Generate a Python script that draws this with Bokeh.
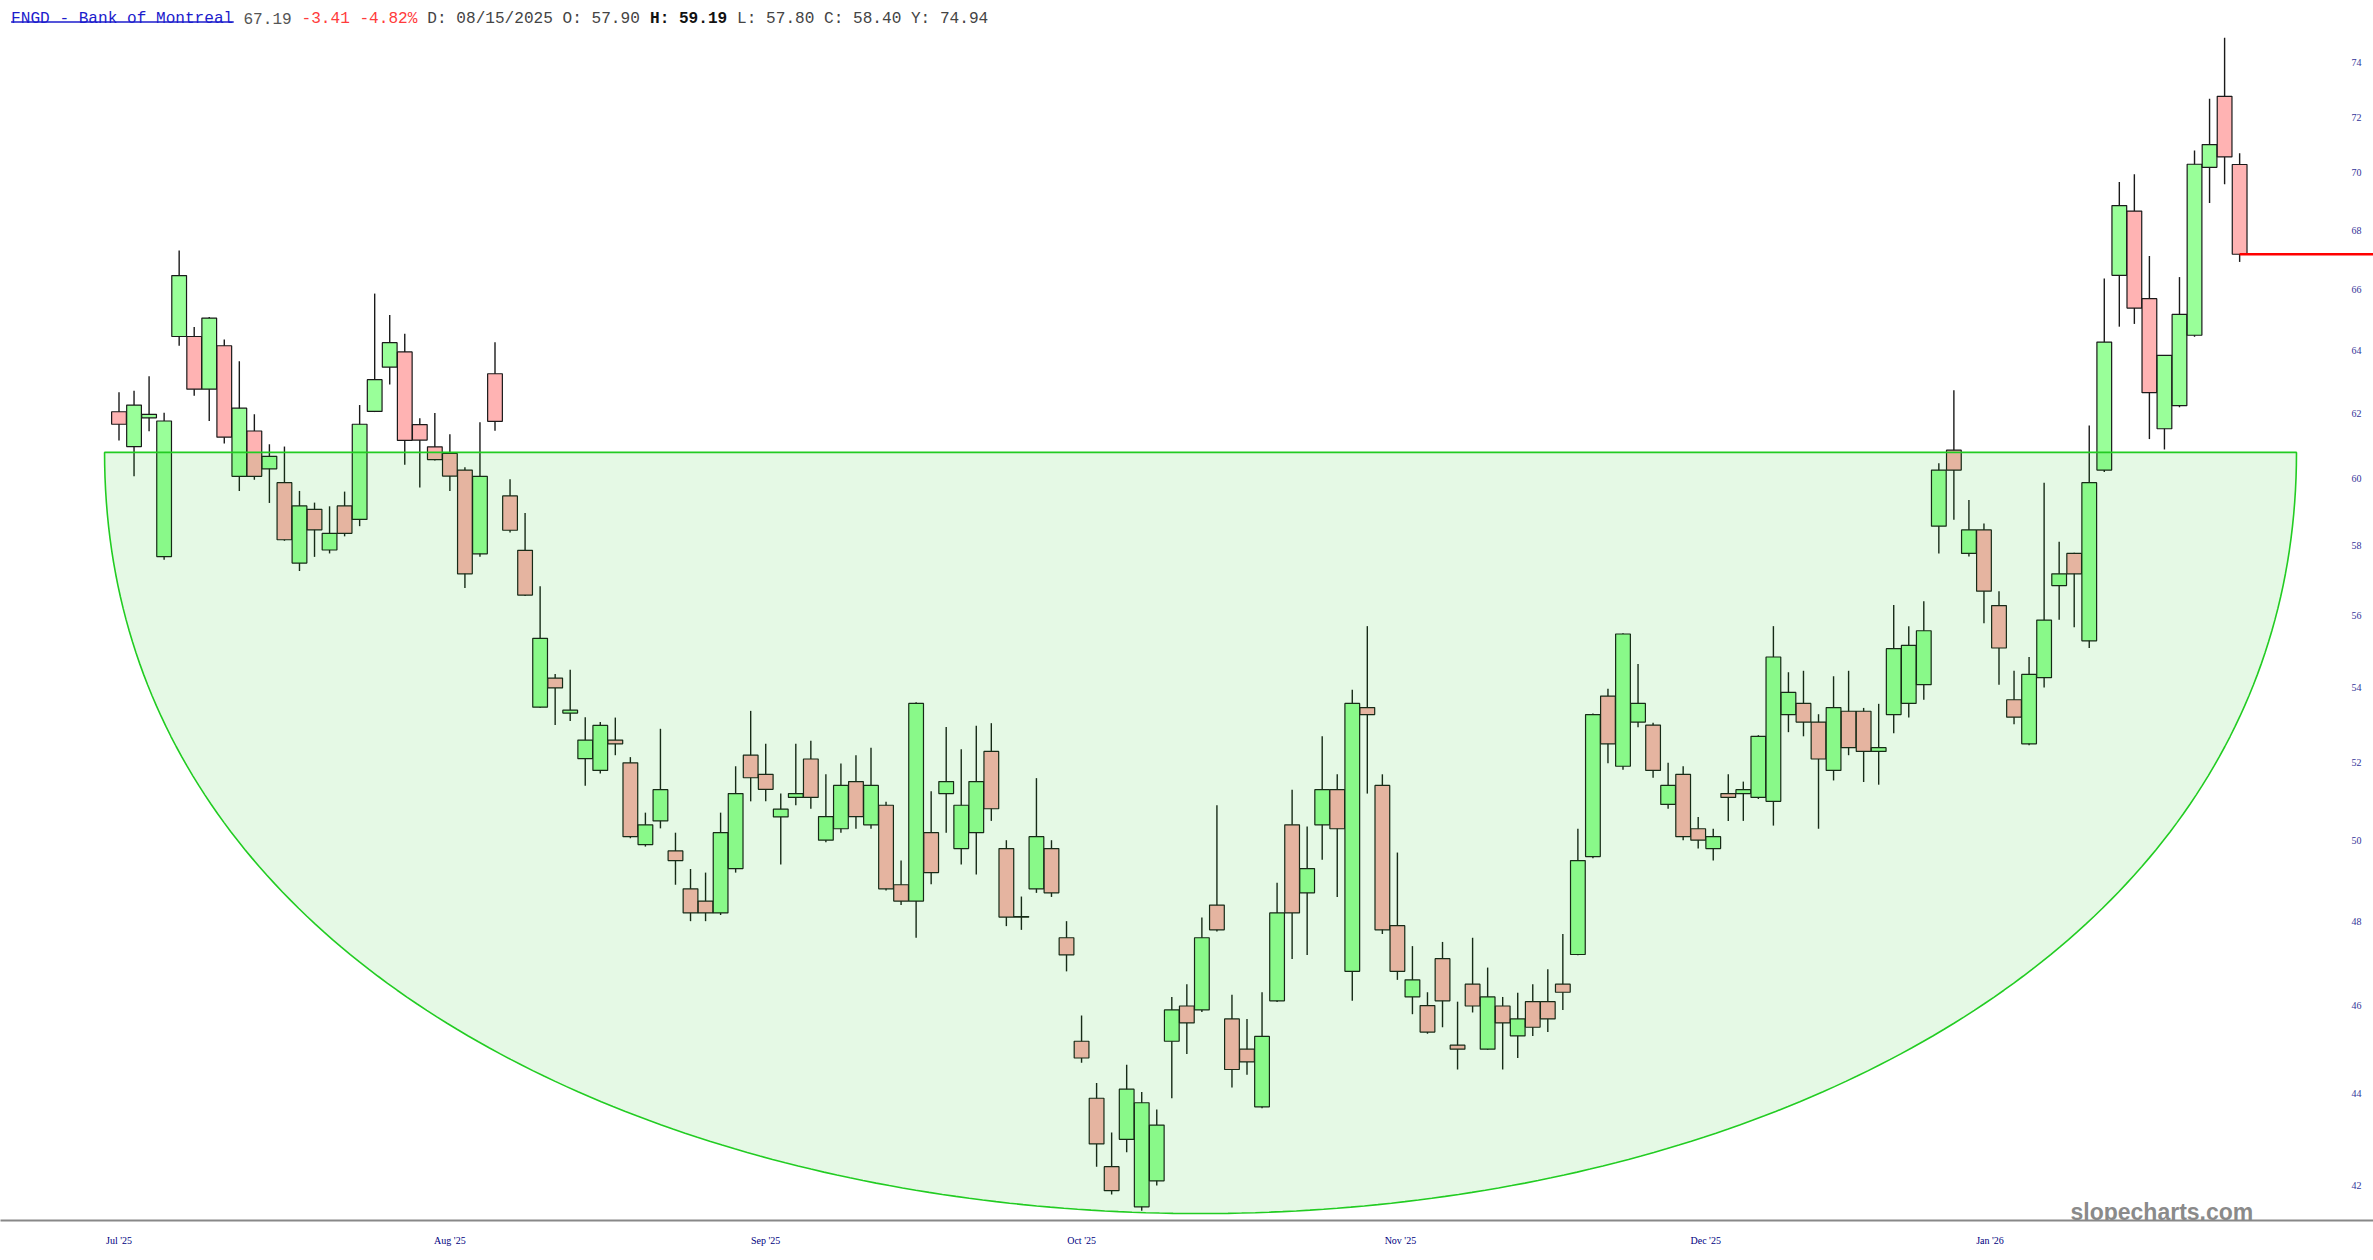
import math
from bokeh.plotting import figure
from bokeh.models import Range1d, FixedTicker, Label, CustomJSTickFormatter
from bokeh.core.properties import value
from bokeh.embed import file_html
from bokeh.resources import INLINE

# ---------------- data ----------------
opens = [62.06, 60.98, 61.87, 57.69, 64.46, 64.46, 62.77, 64.16, 60.07, 61.46,
         60.30, 59.88, 57.50, 59.08, 57.88, 59.18, 58.78, 62.07, 63.47, 63.96,
         61.66, 60.97, 60.77, 60.26, 57.77, 63.26, 59.48, 57.87, 53.47, 54.26,
         53.31, 52.10, 51.79, 52.59, 51.99, 49.89, 50.49, 49.73, 48.79, 48.49,
         48.20, 49.29, 52.19, 51.69, 50.59, 51.09, 52.09, 50.00, 50.29, 51.50,
         50.39, 50.89, 48.89, 48.49, 50.19, 51.19, 49.79, 50.19, 52.29, 49.79,
         48.10, 48.79, 49.79, 47.60, 45.18, 43.90, 42.41, 43.00, 41.56, 42.11,
         45.18, 45.99, 45.90, 48.39, 45.69, 45.00, 43.71, 46.11, 50.39, 48.69,
         50.39, 51.29, 46.80, 53.46, 51.40, 47.89, 46.20, 46.00, 47.10, 45.09,
         46.50, 45.00, 45.99, 45.30, 46.09, 46.09, 46.50, 47.20, 49.59, 53.77,
         51.90, 53.07, 52.99, 50.91, 51.69, 50.29, 49.79, 51.19, 51.19, 51.09,
         50.99, 53.27, 53.57, 53.07, 51.79, 53.36, 53.36, 52.29, 53.27, 53.57,
         54.08, 58.58, 60.87, 57.78, 58.47, 56.28, 53.67, 52.49, 54.27, 56.85,
         57.78, 55.29, 60.26, 66.48, 68.67, 65.70, 61.53, 62.25, 64.50, 70.20,
         72.76, 70.30]
highs = [62.67, 62.72, 63.18, 62.03, 67.32, 64.77, 65.10, 64.36, 63.66, 61.98,
         61.05, 60.98, 59.63, 59.28, 59.17, 59.61, 62.27, 65.87, 65.16, 64.55,
         61.86, 62.02, 61.36, 60.35, 61.73, 64.27, 59.98, 58.97, 56.83, 54.37,
         54.49, 53.20, 53.07, 53.19, 52.14, 50.70, 52.89, 50.19, 49.28, 49.19,
         50.70, 51.90, 53.37, 52.49, 51.19, 52.49, 52.57, 51.69, 51.97, 52.19,
         52.39, 50.98, 49.49, 53.60, 51.25, 52.94, 52.35, 52.97, 53.04, 50.00,
         48.60, 51.59, 50.00, 48.00, 45.77, 44.24, 43.15, 44.65, 44.04, 43.65,
         46.20, 46.50, 48.09, 50.89, 46.25, 45.69, 46.31, 48.94, 51.29, 50.35,
         52.69, 51.69, 53.94, 55.70, 51.69, 49.69, 47.40, 46.31, 47.50, 46.09,
         47.60, 46.89, 46.20, 46.30, 46.50, 46.85, 47.69, 50.29, 53.30, 53.97,
         55.50, 54.65, 53.05, 51.99, 51.90, 50.59, 50.29, 51.69, 51.50, 52.72,
         55.70, 54.42, 54.46, 53.28, 54.31, 54.46, 53.45, 53.56, 56.30, 55.70,
         56.40, 60.47, 62.74, 59.36, 58.66, 56.69, 54.46, 54.84, 59.88, 58.12,
         57.80, 61.63, 66.37, 69.68, 69.96, 67.13, 63.85, 66.42, 70.80, 72.67,
         74.94, 70.70]
lows = [61.17, 60.07, 61.45, 57.60, 64.16, 62.56, 61.77, 61.07, 59.63, 59.97,
        59.27, 58.15, 57.27, 57.68, 57.78, 58.28, 58.58, 62.05, 62.92, 60.42,
        59.73, 60.55, 59.63, 56.78, 57.68, 61.47, 58.39, 56.55, 53.45, 52.99,
        53.10, 51.39, 51.71, 52.19, 50.05, 49.84, 50.30, 48.89, 48.00, 48.00,
        48.15, 49.19, 50.99, 50.99, 49.39, 50.89, 50.80, 49.95, 50.19, 50.29,
        50.29, 48.75, 48.39, 47.60, 48.90, 50.19, 49.39, 49.14, 50.49, 47.88,
        47.79, 48.69, 48.59, 46.80, 44.69, 42.41, 41.82, 42.72, 41.48, 42.01,
        43.90, 44.89, 45.85, 47.75, 44.14, 44.42, 43.68, 46.08, 47.09, 47.19,
        49.51, 48.59, 46.11, 51.19, 47.69, 46.60, 45.80, 45.35, 45.50, 44.54,
        45.84, 44.98, 44.54, 44.80, 45.30, 45.39, 45.90, 47.18, 49.55, 51.98,
        51.81, 52.93, 51.60, 50.80, 50.00, 49.79, 49.49, 50.49, 50.49, 51.05,
        50.37, 52.80, 52.69, 50.29, 51.53, 52.19, 51.49, 51.42, 52.77, 53.19,
        53.67, 57.78, 58.77, 57.69, 55.78, 54.08, 53.01, 52.45, 54.00, 55.88,
        55.67, 55.09, 60.20, 64.78, 64.87, 61.21, 60.89, 62.20, 64.45, 68.95,
        69.60, 66.93]
closes = [61.67, 62.27, 61.98, 61.77, 66.47, 62.77, 65.06, 61.27, 62.17, 60.07,
          60.68, 58.18, 59.18, 58.47, 58.37, 58.37, 61.67, 63.07, 64.26, 61.17,
          61.18, 60.58, 60.08, 57.19, 60.07, 61.76, 58.46, 56.58, 55.36, 53.99,
          53.39, 52.59, 52.98, 52.49, 50.09, 50.39, 51.29, 49.49, 48.20, 48.20,
          50.19, 51.19, 51.60, 51.30, 50.79, 51.19, 51.09, 50.60, 51.40, 50.60,
          51.40, 48.79, 48.49, 53.57, 49.19, 51.50, 50.89, 51.50, 50.80, 48.10,
          48.11, 50.09, 48.69, 47.19, 44.80, 42.90, 41.90, 44.10, 43.80, 43.31,
          45.90, 45.60, 47.60, 47.79, 44.54, 44.71, 45.29, 48.20, 48.20, 49.29,
          51.29, 50.29, 53.57, 53.27, 47.79, 46.80, 46.60, 45.39, 46.11, 45.00,
          45.99, 46.20, 45.60, 45.69, 45.50, 45.69, 46.31, 49.49, 53.27, 52.49,
          55.48, 53.57, 51.79, 51.40, 50.09, 50.00, 50.09, 51.09, 51.29, 52.69,
          54.84, 53.87, 53.07, 52.09, 53.46, 52.39, 52.29, 52.39, 55.07, 55.16,
          55.57, 60.26, 60.26, 58.47, 56.69, 55.09, 53.20, 54.36, 55.87, 57.19,
          57.19, 59.88, 64.28, 68.86, 65.39, 62.66, 63.85, 65.18, 70.31, 71.01,
          70.57, 67.19]

month_idx = [0, 22, 43, 64, 85.2, 105.5, 124.4]
month_labels = ["Jul '25", "Aug '25", "Sep '25", "Oct '25", "Nov '25", "Dec '25", "Jan '26"]
y_ticks = [42, 44, 46, 48, 50, 52, 54, 56, 58, 60, 62, 64, 66, 68, 70, 72, 74]
y_tick_labels = [str(t) for t in y_ticks]

last_price = 67.19
header_parts = [
    ("FNGD - Bank of Montreal", 0, "#1c1ccc", "normal"),
    ("67.19", 24, "#555555", "normal"),
    ("-3.41 -4.82%", 30, "#ff3b3b", "normal"),
    ("D: 08/15/2025 O: 57.90", 43, "#444444", "normal"),
    ("H: 59.19", 66, "#111111", "bold"),
    ("L: 57.80 C: 58.40 Y: 74.94", 75, "#444444", "normal"),
]

# rounding-bottom "bowl" annotation
bowl_left, bowl_right = -0.96, 144.78
bowl_top, bowl_bottom = 60.8, 41.42

# ---------------- layout helpers ----------------
FRAME_L, FRAME_R = 0.0, 2373.0
FRAME_T, FRAME_B = 0.0, 1220.0
STEP, C0 = 15.04, 118.5
X0 = (FRAME_L - C0) / STEP
X1 = (FRAME_R - C0) / STEP
Y_TOP = 74 * math.exp((62.3 - FRAME_T) / 1983.0)
Y_BOT = 74 * math.exp((62.3 - FRAME_B) / 1983.0)


def px_x(ax):
    return X0 + (ax - FRAME_L) / (FRAME_R - FRAME_L) * (X1 - X0)


def px_y(ay):
    lt, lb = math.log(Y_TOP), math.log(Y_BOT)
    return math.exp(lt + (ay - FRAME_T) / (FRAME_B - FRAME_T) * (lb - lt))


p = figure(x_range=Range1d(X0, X1), y_range=Range1d(Y_BOT, Y_TOP),
           y_axis_type="log", y_axis_location=None,
           frame_width=int(FRAME_R - FRAME_L), frame_height=int(FRAME_B - FRAME_T),
           min_border_left=0, min_border_right=0, min_border_top=0, min_border_bottom=24,
           output_backend="svg", toolbar_location=None,
           outline_line_color=None, background_fill_color="white")
p.xgrid.visible = False
p.ygrid.visible = False

idx = list(range(len(opens)))
up = [c >= o for o, c in zip(opens, closes)]
tops = [max(o, c) for o, c in zip(opens, closes)]
bots = [min(o, c) for o, c in zip(opens, closes)]
fills = ["#99ff99" if u else "#ffb3b3" for u in up]

p.segment(x0=idx, y0=lows, x1=idx, y1=highs, line_color="#1a1a1a", line_width=1.4)
p.vbar(x=idx, width=0.98, top=tops, bottom=bots, fill_color=fills,
       line_color="#1a1a1a", line_width=1.2)

# bowl as cubic bezier (in log space) filled
T, B = math.log(bowl_top), math.log(bowl_bottom)
n = 240
bx, by = [], []
for i in range(n + 1):
    t = i / n
    bx.append(bowl_left + (bowl_right - bowl_left) * (3 * t * t - 2 * t ** 3))
    by.append(math.exp(T - (4.0 / 3.0) * (T - B) * 3 * t * (1 - t)))
p.patch(bx, by, fill_color="#00c800", fill_alpha=0.1, line_color="#22cc22", line_width=1.6)

# last price line
p.segment(x0=[idx[-1]], y0=[last_price], x1=[X1 + 5], y1=[last_price],
          line_color="#ff0000", line_width=2.5)

# price scale labels (right side, inside the frame like the reference)
p.text(x=[px_x(2356)] * len(y_ticks), y=y_ticks, text=y_tick_labels,
       text_align="center", text_baseline="middle",
       text_font=value("Liberation Serif"), text_font_size="10px",
       text_color="#333399")

xa = p.xaxis[0]
xa.ticker = FixedTicker(ticks=month_idx)
xa.formatter = CustomJSTickFormatter(
    args=dict(pos=month_idx, labels=month_labels),
    code="""
let best = 0;
for (let i = 0; i < pos.length; i++) {
  if (Math.abs(pos[i] - tick) < Math.abs(pos[best] - tick)) best = i;
}
return labels[best];
""")
xa.axis_line_color = "#888888"
xa.axis_line_width = 2
xa.major_tick_line_color = None
xa.minor_tick_line_color = None
xa.major_label_standoff = 8
xa.major_label_text_font = "Liberation Serif"
xa.major_label_text_font_size = "10px"
xa.major_label_text_color = "#000080"

# header
CH = 9.68
for txt, k, col, style in header_parts:
    p.add_layout(Label(x=px_x(10.6 + CH * k), y=px_y(18), text=txt,
                       text_font="Liberation Mono", text_font_size="16.1px",
                       text_color=col, text_font_style=style,
                       text_align="left", text_baseline="alphabetic"))
p.segment(x0=[px_x(10.6)], y0=[px_y(21.5)], x1=[px_x(10.6 + CH * 23)], y1=[px_y(21.5)],
          line_color="#1c1ccc", line_width=1.5)

# watermark
p.add_layout(Label(x=px_x(2070), y=px_y(1211), text="slopecharts.com",
                   text_font="Liberation Sans", text_font_size="23px",
                   text_font_style="bold", text_color="#8a8a8a",
                   text_align="left", text_baseline="alphabetic"))

open("out.html", "w").write(file_html(p, INLINE))
